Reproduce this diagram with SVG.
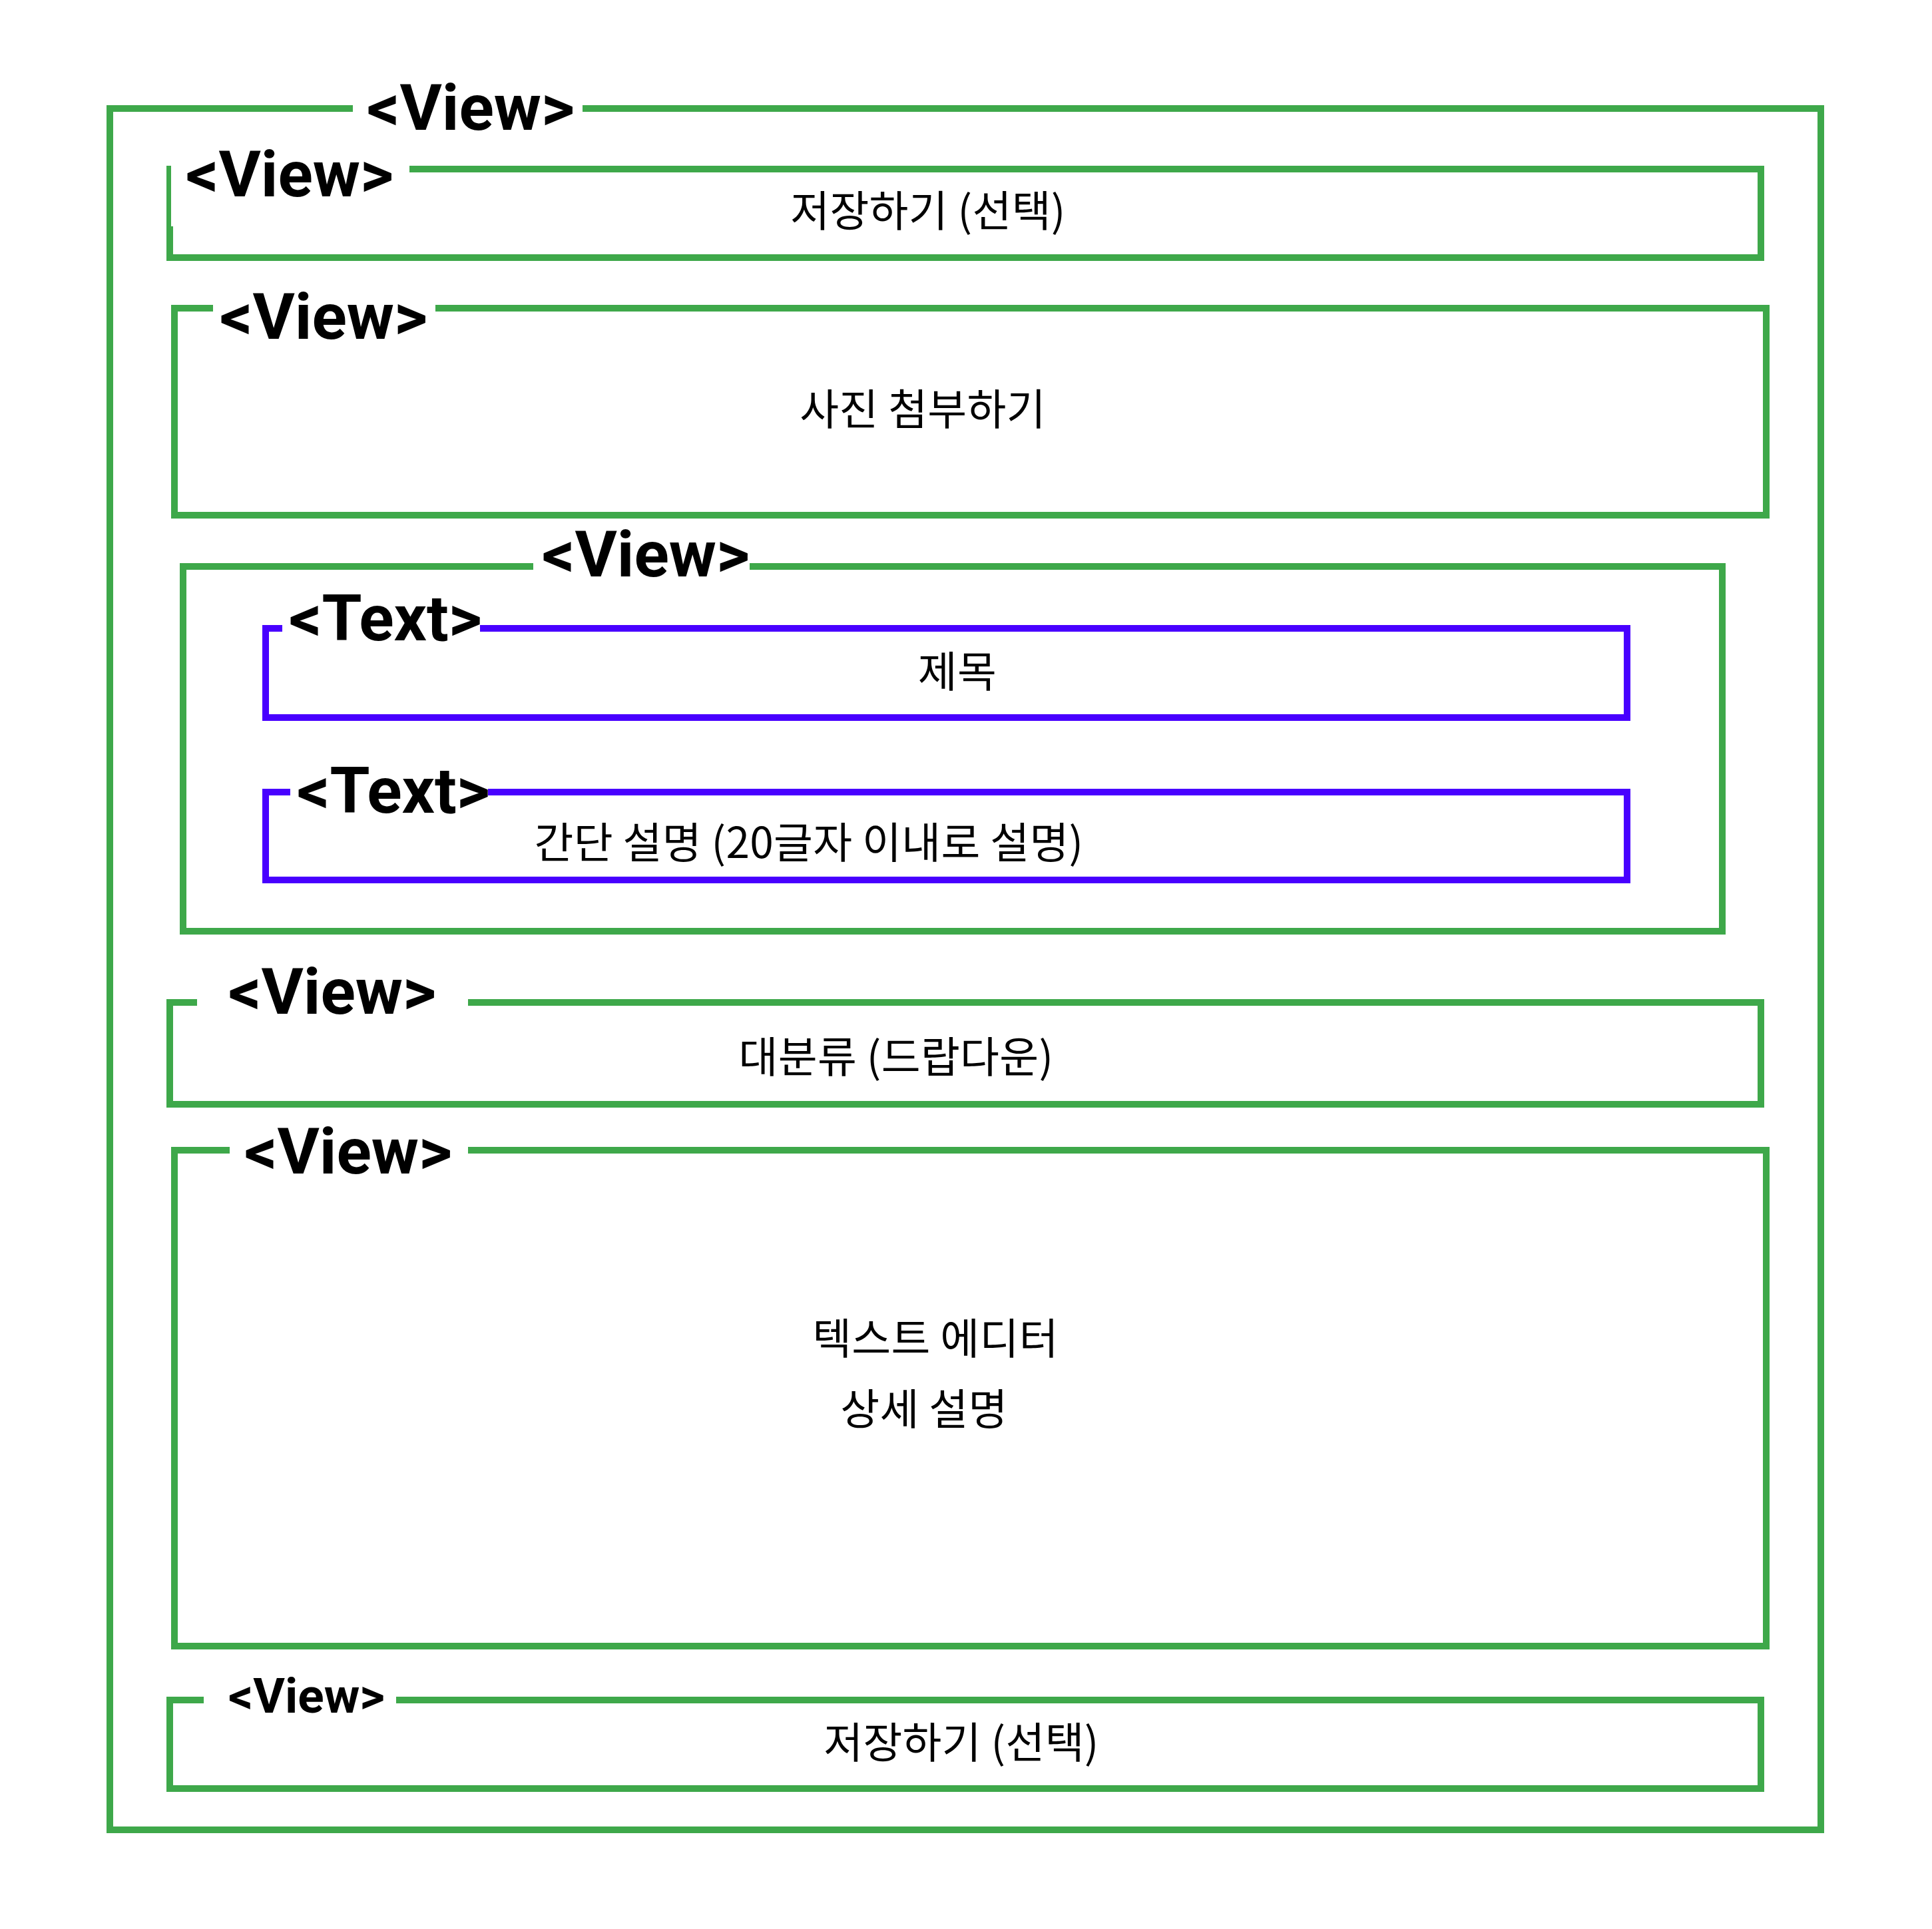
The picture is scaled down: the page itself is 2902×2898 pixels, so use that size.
<svg xmlns="http://www.w3.org/2000/svg" width="2902" height="2898" viewBox="0 0 2902 2898">
<style>
.v{fill:none;stroke:#3ea84a;stroke-width:10;stroke-linejoin:miter;stroke-linecap:butt}
.t{fill:none;stroke:#4800ff;stroke-width:10;stroke-linejoin:miter;stroke-linecap:butt}
.lbl{font-family:Roboto,"Liberation Sans",sans-serif;font-weight:bold;font-size:97px;fill:#000}
.sm{font-size:73px}
.kr{font-family:"Noto Sans CJK KR","Noto Sans",sans-serif;font-size:64px;letter-spacing:0.3px;fill:#000;text-anchor:middle}
</style>
<rect width="2902" height="2898" fill="#fff"/>
<g id="view-root">
<path class="v" d="M875,163 H2735 V2749 H165 V163 H530"/>
<text class="lbl" x="551" y="195">&lt;View&gt;</text>
</g>
<g id="view-save-top">
<path class="v" d="M615,254 H2645 V387 H255 V340"/>
<path class="v" style="stroke-width:7" d="M253.5,340 V249"/>
<text class="lbl" x="279" y="295">&lt;View&gt;</text>
<text class="kr" x="1394" y="340">저장하기 (선택)</text>
</g>
<g id="view-photo">
<path class="v" d="M654,463 H2653 V774 H262 V463 H320"/>
<text class="lbl" x="330" y="509">&lt;View&gt;</text>
<text class="kr" x="1386" y="638">사진 첨부하기</text>
</g>
<g id="view-texts">
<path class="v" d="M1126,851 H2587 V1399 H275 V851 H801"/>
<text class="lbl" x="814" y="866">&lt;View&gt;</text>
</g>
<g id="text-title">
<path class="t" d="M721,944 H2444 V1078 H399 V944 H424"/>
<text class="lbl" x="434" y="962">&lt;Text&gt;</text>
<text class="kr" x="1438" y="1032">제목</text>
</g>
<g id="text-summary">
<path class="t" d="M733,1190 H2444 V1322 H399 V1190 H436"/>
<text class="lbl" x="446" y="1221">&lt;Text&gt;</text>
<text class="kr" x="1215" y="1289">간단 설명 (20글자 이내로 설명)</text>
</g>
<g id="view-category">
<path class="v" d="M703,1506 H2645 V1659 H255 V1506 H296"/>
<text class="lbl" x="343" y="1523">&lt;View&gt;</text>
<text class="kr" x="1346" y="1611">대분류 (드랍다운)</text>
</g>
<g id="view-editor">
<path class="v" d="M703,1728 H2653 V2473 H262 V1728 H345"/>
<text class="lbl" x="367" y="1763">&lt;View&gt;</text>
<text class="kr" x="1405" y="2034">텍스트 에디터</text>
<text class="kr" x="1388" y="2140">상세 설명</text>
</g>
<g id="view-save-bottom">
<path class="v" d="M595,2554 H2645 V2687 H255 V2554 H306"/>
<text class="lbl sm" x="343" y="2573">&lt;View&gt;</text>
<text class="kr" x="1444" y="2641">저장하기 (선택)</text>
</g>
<g id="connectors"></g>
</svg>
